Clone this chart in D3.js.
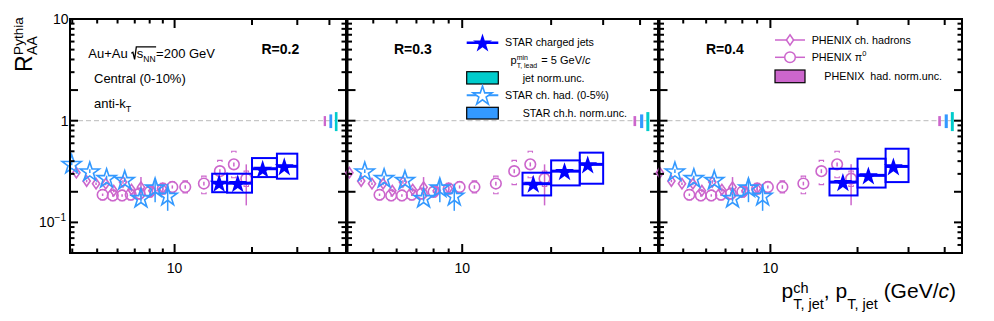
<!DOCTYPE html>
<html>
<head>
<meta charset="utf-8">
<script src="https://d3js.org/d3.v7.min.js"></script>
<style>
  body { margin: 0; background: #fff; }
  svg { font-family: "Liberation Sans", Arial, Helvetica, sans-serif; }
  svg text { white-space: pre; }
</style>
</head>
<body>
<svg id="chart" width="994" height="321"></svg>
<script>
// ---- data ----
const radii = ["R=0.2", "R=0.3", "R=0.4"];
const xMin = [3.92, 4.09, 4.14];
const xMax = [46.4, 46.0, 45.9];
const yRange = [0.05, 10];

// STAR charged jets, one list per panel
const jetPt = [[14.9, 17.6, 22.0, 26.7], [17.4, 22.2, 26.6], [17.8, 21.8, 26.6]];
const jetRaa = [[0.245, 0.243, 0.337, 0.356], [0.240, 0.319, 0.372], [0.249, 0.290, 0.355]];
const jetBinLo = [[14, 16, 20, 25], [16, 20, 25], [16, 20, 25]];
const jetBinHi = [[16, 20, 25, 30], [20, 25, 30], [20, 25, 30]];
const jetSysLo = [[0.198, 0.196, 0.279, 0.269], [0.184, 0.231, 0.240], [0.184, 0.220, 0.249]];
const jetSysHi = [[0.301, 0.301, 0.429, 0.474], [0.308, 0.407, 0.485], [0.337, 0.423, 0.530]];

// STAR charged hadrons (0-5%)
const starHadPt = [3.98, 4.68, 5.44, 6.4, 7.4, 8.4, 9.4];
const starHadRaa = [0.378, 0.319, 0.275, 0.263, 0.175, 0.222, 0.184];
const starHadLo = [0.365, 0.306, 0.262, 0.250, 0.160, 0.158, 0.130];
const starHadHi = [0.392, 0.333, 0.288, 0.276, 0.190, 0.270, 0.240];

// PHENIX charged hadrons
const phxHadPt = [4.15, 4.55, 4.95, 5.4, 5.8, 6.3, 6.8, 7.4, 8.2, 9.0];
const phxHadRaa = [0.308, 0.255, 0.240, 0.240, 0.205, 0.250, 0.210, 0.222, 0.205, 0.215];
const phxHadLo = [0.300, 0.248, 0.233, 0.232, 0.198, 0.240, 0.200, 0.177, 0.190, 0.195];
const phxHadHi = [0.316, 0.262, 0.247, 0.248, 0.212, 0.260, 0.220, 0.279, 0.220, 0.235];

// PHENIX pi0
const phxPi0Pt = [5.25, 5.75, 6.25, 6.75, 7.3, 8.0, 9.0, 9.8, 11, 13, 15, 17, 19];
const phxPi0Raa = [0.187, 0.184, 0.184, 0.187, 0.192, 0.200, 0.215, 0.223, 0.223, 0.241, 0.319, 0.372, 0.269];
const phxPi0Lo = [0.182, 0.179, 0.179, 0.182, 0.187, 0.194, 0.208, 0.215, 0.214, 0.231, 0.305, 0.355, 0.147];
const phxPi0Hi = [0.192, 0.189, 0.189, 0.192, 0.197, 0.206, 0.222, 0.231, 0.232, 0.251, 0.333, 0.389, 0.372];
const phxPi0SysLo = [0.166, 0.163, 0.163, 0.166, 0.170, 0.177, 0.190, 0.197, 0.195, 0.191, 0.235, 0.275, 0.225];
const phxPi0SysHi = [0.210, 0.207, 0.207, 0.210, 0.216, 0.225, 0.242, 0.251, 0.256, 0.285, 0.407, 0.500, 0.320];

// normalisation uncertainties at R_AA = 1
const normNames = ["phenix", "starHad", "jet"];
const normPtLo = [38, 40, 42];
const normPtHi = [38.8, 41, 43];
const normLo = [0.885, 0.846, 0.79];
const normHi = [1.11, 1.153, 1.215];

const xTicks = [4, 5, 6, 7, 8, 9, 10, 20, 30, 40];
const yTicks = [0.05, 0.06, 0.07, 0.08, 0.09, 0.1, 0.2, 0.3, 0.4, 0.5, 0.6, 0.7, 0.8, 0.9,
                1, 2, 3, 4, 5, 6, 7, 8, 9, 10];

// ---- styles / layout ----
const cJet = "#0000ff", cHad = "#3399ff", cPhx = "#cc66cc", cCyan = "#00cccc";
const normColor = { phenix: cPhx, starHad: cHad, jet: cCyan };
const panelLeft = [70, 347.5, 659.5], panelRight = [346, 658, 962];
const plotTop = 19, plotBottom = 253;

const svg = d3.select("#chart");
svg.append("rect").attr("width", 994).attr("height", 321).attr("fill", "#fff");

const y = d3.scaleLog().domain(yRange).range([plotBottom, plotTop]);

const starSym = d3.symbol().type(d3.symbolStar).size(112);
const diamond = "M0,-5.2L3.6,0L0,5.2L-3.6,0Z";

function txt(g, x, yy, s, size, opt) {
    opt = opt || {};
    const t = g.append("text").attr("x", x).attr("y", yy)
        .attr("font-size", size).attr("fill", "#000").text(s);
    if (opt.bold) t.attr("font-weight", "bold");
    if (opt.italic) t.attr("font-style", "italic");
    if (opt.anchor) t.attr("text-anchor", opt.anchor);
    return t;
}
const wid = t => t.node().getComputedTextLength();

radii.forEach(function(rLabel, i) {
    const x = d3.scaleLog().domain([xMin[i], xMax[i]]).range([panelLeft[i], panelRight[i]]);
    const g = svg.append("g");
    const inX = p => p >= xMin[i] && p <= xMax[i];

    // dashed unity line
    g.append("line")
        .attr("x1", panelLeft[i]).attr("x2", panelRight[i])
        .attr("y1", y(1)).attr("y2", y(1))
        .attr("stroke", "#bbbbbb").attr("stroke-width", 1)
        .attr("stroke-dasharray", "5,3");

    // normalisation boxes
    normNames.forEach(function(n, k) {
        g.append("rect")
            .attr("x", x(normPtLo[k])).attr("width", x(normPtHi[k]) - x(normPtLo[k]))
            .attr("y", y(normHi[k])).attr("height", y(normLo[k]) - y(normHi[k]))
            .attr("fill", normColor[n]);
    });

    // PHENIX pi0
    phxPi0Pt.forEach(function(p, k) {
        if (!inX(p)) return;
        const cx = x(p);
        g.append("line").attr("x1", cx).attr("x2", cx)
            .attr("y1", y(phxPi0Lo[k])).attr("y2", y(phxPi0Hi[k]))
            .attr("stroke", cPhx).attr("stroke-width", 1.5);
        [phxPi0SysLo[k], phxPi0SysHi[k]].forEach(function(v, j) {
            const yy = y(v), d = j === 0 ? -1.5 : 1.5;
            g.append("path")
                .attr("d", `M${cx - 2.2},${yy + d}V${yy}H${cx + 2.2}V${yy + d}`)
                .attr("fill", "none").attr("stroke", cPhx).attr("stroke-width", 1.1);
        });
        g.append("circle").attr("cx", cx).attr("cy", y(phxPi0Raa[k])).attr("r", 5.3)
            .attr("fill", "none").attr("stroke", cPhx).attr("stroke-width", 1.6);
    });

    // PHENIX charged hadrons
    phxHadPt.forEach(function(p, k) {
        if (!inX(p)) return;
        const cx = x(p);
        g.append("line").attr("x1", cx).attr("x2", cx)
            .attr("y1", y(phxHadLo[k])).attr("y2", y(phxHadHi[k]))
            .attr("stroke", cPhx).attr("stroke-width", 1.5);
        g.append("path").attr("d", diamond)
            .attr("transform", `translate(${cx},${y(phxHadRaa[k])})`)
            .attr("fill", "none").attr("stroke", cPhx).attr("stroke-width", 1.6);
    });

    // STAR charged hadrons
    starHadPt.forEach(function(p, k) {
        if (!inX(p)) return;
        const cx = x(p);
        g.append("line").attr("x1", cx).attr("x2", cx)
            .attr("y1", y(starHadLo[k])).attr("y2", y(starHadHi[k]))
            .attr("stroke", cHad).attr("stroke-width", 1.5);
        g.append("path").attr("d", starSym())
            .attr("transform", `translate(${cx},${y(starHadRaa[k]) + 1})`)
            .attr("fill", "none").attr("stroke", cHad).attr("stroke-width", 1.6);
    });

    // STAR charged jets
    jetPt[i].forEach(function(p, k) {
        g.append("rect")
            .attr("x", x(jetBinLo[i][k])).attr("width", x(jetBinHi[i][k]) - x(jetBinLo[i][k]))
            .attr("y", y(jetSysHi[i][k])).attr("height", y(jetSysLo[i][k]) - y(jetSysHi[i][k]))
            .attr("fill", "none").attr("stroke", cJet).attr("stroke-width", 2);
    });
    jetPt[i].forEach(function(p, k) {
        g.append("line")
            .attr("x1", x(jetBinLo[i][k])).attr("x2", x(jetBinHi[i][k]))
            .attr("y1", y(jetRaa[i][k])).attr("y2", y(jetRaa[i][k]))
            .attr("stroke", cJet).attr("stroke-width", 3);
        g.append("path").attr("d", starSym())
            .attr("transform", `translate(${x(p)},${y(jetRaa[i][k]) + 1})`)
            .attr("fill", cJet);
    });

    // frame and ticks
    const fr = svg.append("g").attr("stroke", "#000").attr("stroke-width", 2);
    fr.append("rect").attr("x", panelLeft[i]).attr("y", plotTop)
        .attr("width", panelRight[i] - panelLeft[i]).attr("height", plotBottom - plotTop)
        .attr("fill", "none");
    xTicks.filter(inX).forEach(function(t) {
        const len = t === 10 ? 9 : (t >= 20 ? 6 : 4.5);
        fr.append("line").attr("x1", x(t)).attr("x2", x(t))
            .attr("y1", plotBottom).attr("y2", plotBottom - len);
        fr.append("line").attr("x1", x(t)).attr("x2", x(t))
            .attr("y1", plotTop).attr("y2", plotTop + len);
    });
    yTicks.forEach(function(t) {
        const major = [0.1, 0.2, 1, 2, 10].indexOf(t) >= 0;
        const len = major ? 8 : 4.5;
        fr.append("line").attr("x1", panelLeft[i]).attr("x2", panelLeft[i] + len)
            .attr("y1", y(t)).attr("y2", y(t));
        fr.append("line").attr("x1", panelRight[i]).attr("x2", panelRight[i] - len)
            .attr("y1", y(t)).attr("y2", y(t));
    });

    // x tick label
    txt(svg, x(10), 273, "10", 14, { anchor: "middle" });

    // radius label
    const rx = [261.5, 394, 706][i];
    txt(svg, rx, 53.5, rLabel, 14, { bold: true });
});

// y tick labels
txt(svg, 68.5, y(10) + 5, "10", 14, { anchor: "end" });
txt(svg, 68.5, y(1) + 5, "1", 14, { anchor: "end" });
const tm = txt(svg, 39, y(0.1) + 5, "10", 14);
txt(svg, 39 + wid(tm), y(0.1) - 1, "\u22121", 10);

// y axis title
const yt = svg.append("g").attr("transform", "translate(32,72) rotate(-90)");
const tR = txt(yt, 0, 0, "R", 23);
txt(yt, wid(tR) + 0.5, -9, "Pythia", 13.5);
txt(yt, wid(tR) + 0.5, 5, "AA", 14);

// x axis title
(function() {
    let cx = 781.5;
    const b = 298;
    const p1 = txt(svg, cx, b, "p", 21);
    cx += wid(p1);
    const s1 = txt(svg, cx, b - 5.5, "ch", 14.5);
    const s2 = txt(svg, cx, b + 10.5, "T, jet", 14.5);
    cx += Math.max(wid(s1), wid(s2));
    const p2 = txt(svg, cx, b, ", p", 21);
    cx += wid(p2);
    const s3 = txt(svg, cx, b + 10.5, "T, jet", 14.5);
    cx += wid(s3);
    const p3 = txt(svg, cx, b, " (GeV/", 21);
    cx += wid(p3);
    const p4 = txt(svg, cx, b, "c", 21, { italic: true });
    cx += wid(p4);
    txt(svg, cx, b, ")", 21);
})();

// collision system text (panel 1)
(function() {
    const b = 58.3;
    const a = txt(svg, 88.3, b, "Au+Au ", 13);
    const rx = 88.3 + wid(a);
    const s = txt(svg, rx + 5.5, b, "s", 13);
    const sx = rx + 5.5 + wid(s);
    const nn = txt(svg, sx, b + 3.5, "NN", 8.5);
    const ex = sx + wid(nn) + 0.5;
    svg.append("path")
        .attr("d", `M${rx},${b - 5}L${rx + 1.6},${b - 6}L${rx + 3.3},${b + 1}L${rx + 5},${b - 11.5}H${ex}`)
        .attr("fill", "none").attr("stroke", "#000").attr("stroke-width", 1.3);
    txt(svg, ex, b, "=200 GeV", 13);

    txt(svg, 94, 83.3, "Central (0-10%)", 13);
    const ak = txt(svg, 94, 108.3, "anti-k", 13);
    txt(svg, 94 + wid(ak), 111.5, "T", 9);
})();

// legend, panel 2
(function() {
    const lx0 = 466.7, lx1 = 498.3, lc = (lx0 + lx1) / 2;
    svg.append("line").attr("x1", lx0).attr("x2", lx1).attr("y1", 42.7).attr("y2", 42.7)
        .attr("stroke", cJet).attr("stroke-width", 2.5);
    svg.append("path").attr("d", starSym()).attr("transform", `translate(${lc},43.5)`)
        .attr("fill", cJet);
    txt(svg, 505, 46.2, "STAR charged jets", 10.7);

    const pp = txt(svg, 510.5, 63.5, "p", 11);
    const px = 510.5 + wid(pp);
    const m1 = txt(svg, px, 59.5, "min", 7);
    const m2 = txt(svg, px, 68, "T, lead", 7);
    const qx = px + Math.max(wid(m1), wid(m2)) + 1;
    const q = txt(svg, qx, 63.5, " = 5 GeV/", 11);
    txt(svg, qx + wid(q), 63.5, "c", 11, { italic: true });

    svg.append("rect").attr("x", lx0).attr("y", 71.7).attr("width", lx1 - lx0).attr("height", 12.3)
        .attr("fill", cCyan).attr("stroke", "#000").attr("stroke-width", 1.2);
    txt(svg, 522.7, 82, "jet norm.unc.", 10.7);

    svg.append("line").attr("x1", lx0).attr("x2", lx1).attr("y1", 95.3).attr("y2", 95.3)
        .attr("stroke", cHad).attr("stroke-width", 2);
    svg.append("path").attr("d", starSym()).attr("transform", `translate(${lc},96)`)
        .attr("fill", "#fff").attr("stroke", cHad).attr("stroke-width", 1.6);
    txt(svg, 505, 99.2, "STAR ch. had. (0-5%)", 10.7);

    svg.append("rect").attr("x", lx0).attr("y", 107.3).attr("width", lx1 - lx0).attr("height", 11.7)
        .attr("fill", cHad).attr("stroke", "#000").attr("stroke-width", 1.2);
    txt(svg, 522.7, 117, "STAR ch.h. norm.unc.", 10.7);
})();

// legend, panel 3
(function() {
    const lx0 = 775, lx1 = 805, lc = (lx0 + lx1) / 2;
    svg.append("line").attr("x1", lx0).attr("x2", lx1).attr("y1", 40).attr("y2", 40)
        .attr("stroke", cPhx).attr("stroke-width", 1.5);
    svg.append("path").attr("d", diamond).attr("transform", `translate(${lc},40)`)
        .attr("fill", "#fff").attr("stroke", cPhx).attr("stroke-width", 1.5);
    txt(svg, 811.7, 44, "PHENIX ch. hadrons", 10.75);

    svg.append("line").attr("x1", lx0).attr("x2", lx1).attr("y1", 57.3).attr("y2", 57.3)
        .attr("stroke", cPhx).attr("stroke-width", 1.5);
    svg.append("circle").attr("cx", lc).attr("cy", 57.3).attr("r", 5.3)
        .attr("fill", "#fff").attr("stroke", cPhx).attr("stroke-width", 1.5);
    const ph = txt(svg, 811.7, 61, "PHENIX \u03c0", 10.75);
    txt(svg, 811.7 + wid(ph), 55.5, "0", 7.5);

    svg.append("rect").attr("x", lx0).attr("y", 70).attr("width", lx1 - lx0).attr("height", 12.7)
        .attr("fill", cPhx).attr("stroke", "#000").attr("stroke-width", 1.2);
    txt(svg, 824.3, 80, "PHENIX  had. norm.unc.", 10.75);
})();
</script>
</body>
</html>
